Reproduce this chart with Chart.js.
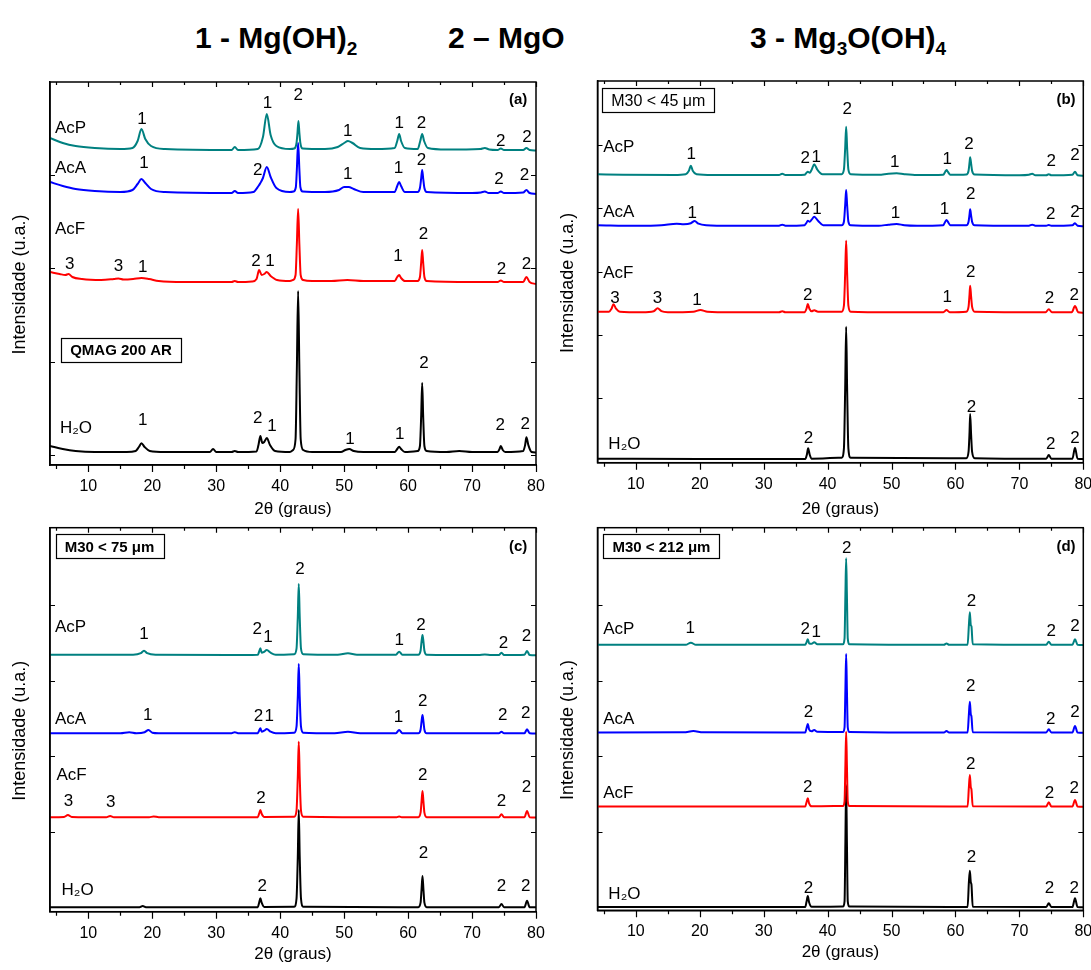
<!DOCTYPE html>
<html><head><meta charset="utf-8">
<script src="https://cdn.jsdelivr.net/npm/chart.js@4.4.1/dist/chart.umd.min.js"></script>
<style>
body{margin:0;background:#fff;width:1091px;height:970px;position:relative;overflow:hidden;font-family:"Liberation Sans",Arial,sans-serif}
.t{position:absolute;top:18px;font-weight:bold;font-size:30px;line-height:40px;white-space:nowrap;color:#000}
.t sub{font-size:19px;vertical-align:-7px;line-height:0}
canvas{position:absolute}
</style></head><body>
<div class="t" style="left:195px">1 - Mg(OH)<sub>2</sub></div>
<div class="t" style="left:448px">2 – MgO</div>
<div class="t" style="left:750px">3 - Mg<sub>3</sub>O(OH)<sub>4</sub></div>
<canvas id="ca" width="545" height="450" style="left:0;top:70px"></canvas>
<canvas id="cb" width="541" height="450" style="left:550px;top:70px"></canvas>
<canvas id="cc" width="545" height="455" style="left:0;top:515px"></canvas>
<canvas id="cd" width="541" height="455" style="left:550px;top:515px"></canvas>
<script>
// ---------- DATA (2θ in degrees, intensity in arbitrary units, curves already offset) ----------
const seriesNames = ['AcP','AcA','AcF','H2O'];
const xTickValues = [5,10,15,20,25,30,35,40,45,50,55,60,65,70,75,80];

// Panel (a) QMAG 200 AR
const a_AcP = [[4,327],[6,322],[8,319],[11,317],[15,316],[16.9,317],[17.7,324],[18.3,336],[18.9,326],[19.8,319],[22,316],[32.4,315],[32.9,318],[33.4,315],[36.5,316],[37.3,328],[37.9,351],[38.5,330],[39.4,319],[41.5,316],[42.2,316.5],[42.55,322],[42.7,332],[42.85,344],[43.0,332],[43.15,322],[43.5,316.5],[47,316],[49,318],[50,322],[50.6,324],[51.3,322],[52.5,317],[55,316],[57.9,317],[58.3,324],[58.6,331],[58.9,324],[59.5,317],[61.5,316],[61.9,324],[62.2,331],[62.5,324],[63.1,317],[66,315.5],[71.3,316],[72,317],[72.7,315.5],[74,315],[74.5,316.5],[75,315],[78,315],[78.5,317],[79,315],[80,314.5]];
const a_AcA = [[4,283],[6,279],[8,276],[11,274],[15,273],[16.9,275],[17.7,281],[18.3,286],[18.9,282],[19.8,276],[22,273],[32.4,272],[32.9,274],[33.4,272],[35.8,273],[36.6,279],[36.9,282],[37.3,287],[37.9,298],[38.5,288],[39.4,277],[41.5,273],[42.1,273.5],[42.45,278],[42.6,295],[42.8,322],[43.0,295],[43.15,278],[43.5,273.5],[47,273],[49.2,275],[50,278],[50.7,278],[51.5,276],[53,273],[57.9,273],[58.3,279],[58.6,283],[58.9,279],[59.5,273],[61.5,273],[61.85,277],[62.05,287],[62.2,295],[62.35,287],[62.55,277],[62.9,273],[70,272],[71.4,272.5],[72,273.5],[72.6,272],[74,272],[74.5,273.5],[75,272],[78,272.5],[78.5,275],[79,272],[80,271]];
const a_AcF = [[4,193],[5.5,191],[6.4,190],[6.9,191],[7.5,188],[9,186],[12,185],[14,186],[14.7,186.5],[15.5,185.5],[17,186],[18.3,187],[19.5,186],[21,184],[25,183],[32.4,183],[32.9,184],[33.4,183],[35.6,183.5],[36.3,186],[36.7,195],[37.1,190],[37.5,191],[37.9,193],[38.5,189],[39.5,185],[41.5,184],[42.0,185],[42.4,190],[42.6,220],[42.8,256],[43.0,220],[43.2,190],[43.6,185],[45,184],[48,184],[50.5,185],[53,184],[57.9,184],[58.3,188],[58.6,190],[58.9,187],[59.5,184],[61.5,184],[61.85,188],[62.05,203],[62.2,215],[62.35,203],[62.55,188],[62.9,184],[70,183],[74,183],[74.5,184.5],[75,183],[78,183],[78.5,188],[79,183],[80,181]];
const a_H2O = [[4,19],[6,16],[8,14],[11,13],[16,13],[17.4,14],[17.9,18],[18.3,21.7],[18.8,18],[19.6,14],[22,13],[29,13],[29.5,16],[30,13],[32.4,13],[32.9,14],[33.4,13],[36.3,13.5],[36.6,20],[36.9,29],[37.2,22],[37.5,23],[37.9,27],[38.4,20],[39.2,14],[41.5,13],[42.0,15],[42.4,26],[42.6,95],[42.8,174],[43.0,95],[43.2,26],[43.6,15],[45,13],[49.5,13],[50.2,15],[50.8,16],[51.5,14],[53,13],[57.9,13],[58.3,16],[58.6,18.3],[58.9,16],[59.5,13],[61.5,14],[61.85,19],[62.05,50],[62.2,82],[62.35,50],[62.55,19],[62.9,14],[66,13],[68,14],[70,13],[74,13],[74.3,16],[74.5,19],[74.8,15],[75.2,13],[78,14],[78.3,20],[78.5,27.7],[78.8,20],[79.3,13],[80,12.5]];

// Panel (b) M30 < 45 µm
const b_AcP = [[4,288.5],[8,288],[16,287.7],[17.8,288.5],[18.3,292],[18.6,297],[18.9,292],[19.5,288.5],[22,287.7],[32.4,287.7],[32.9,289],[33.4,287.7],[36.4,288],[36.7,290],[36.9,291],[37.2,290],[37.5,293],[37.9,298.4],[38.4,293],[39.2,288.5],[42.2,288.5],[42.55,293],[42.75,315],[42.9,336],[43.05,315],[43.25,293],[43.6,288.5],[48,288],[49.5,289],[50.8,289.4],[52,288.5],[54,287.7],[58.1,288],[58.4,291],[58.6,292.7],[58.8,291],[59.2,288],[61.7,288.3],[62.05,292],[62.2,300],[62.3,305.4],[62.45,299],[62.6,292],[63,288.3],[70,287.5],[71.5,288],[72,289],[72.5,287.5],[74.2,287.5],[74.6,288.4],[75,287.5],[78.3,288],[78.7,291],[79.1,287.5],[80,287]];
const b_AcA = [[4,237.5],[10,237],[14,237.5],[16.4,239],[17.5,238.5],[18.6,239.5],[19.2,241.7],[19.8,239],[21,237.5],[25,237],[32.4,237],[32.9,238],[33.4,237],[36.4,237.5],[36.7,240],[36.9,242],[37.2,241],[37.5,243],[37.9,246],[38.5,242],[39.3,237.5],[42.2,237.5],[42.55,241],[42.75,258],[42.9,272.7],[43.05,258],[43.25,241],[43.6,237.5],[48,237],[49.5,238],[50.8,238.7],[52,237.5],[54,237],[58.1,237.5],[58.4,241],[58.6,242.7],[58.8,241],[59.2,237.5],[61.7,237.5],[62.05,241],[62.2,248],[62.3,253.4],[62.45,247],[62.6,241],[63,237.5],[70,237],[71.5,237],[72,238],[72.5,237],[74.2,237],[74.6,237.7],[75,237],[78.3,237.5],[78.7,239.4],[79.1,237],[80,236.5]];
const b_AcF = [[4,151],[5.8,151],[6.2,154],[6.5,158.4],[6.9,154],[7.5,151],[11,150.5],[12.8,151.5],[13.4,154.4],[14,151.5],[15,150.5],[19,151],[20.1,152.7],[21.2,151],[25,150.4],[32.4,150.4],[32.9,151.5],[33.4,150.4],[36.4,150.5],[36.7,154],[36.9,158.7],[37.15,154],[37.5,151.5],[37.9,152.4],[38.5,151],[42.2,151],[42.55,157],[42.75,190],[42.9,222],[43.05,190],[43.25,157],[43.6,151],[50,150.5],[58.1,150.5],[58.6,152.7],[59.1,150.5],[61.7,151],[62.05,156],[62.2,168],[62.3,177],[62.45,166],[62.6,156],[63,151],[74.1,150.5],[74.6,153.4],[75.1,150.5],[78.2,150.5],[78.7,156.7],[79.2,150.5],[80,150]];
const b_H2O = [[4,4],[20,3.7],[36.5,3.7],[36.75,8],[36.95,14.4],[37.2,8],[37.5,4],[42.2,5],[42.55,14],[42.75,75],[42.9,136],[43.05,75],[43.25,14],[43.6,5],[61.7,4.5],[62.05,11],[62.2,30],[62.3,48.7],[62.45,28],[62.6,11],[63,4.5],[74.2,4],[74.6,7.7],[75,4],[78.3,4],[78.7,15],[79.1,4],[80,3.7]];

// Panel (c) M30 < 75 µm
const c_AcP = [[4,257],[17,257],[18.2,258.5],[18.7,261],[19.2,258.5],[20.5,257],[32,256.7],[36.5,257],[36.7,260],[36.9,263.4],[37.1,259],[37.4,259.5],[37.9,261.7],[38.5,259],[39.3,257],[42.2,257.5],[42.55,263],[42.75,295],[42.9,327.7],[43.05,295],[43.25,263],[43.6,257.5],[49,257],[50.6,258.4],[52,257],[58.1,257],[58.6,260],[59.1,257],[61.6,257],[61.95,261],[62.1,270],[62.25,276.7],[62.4,270],[62.55,261],[62.9,257],[71,256.7],[72,257.3],[73,256.7],[74.2,256.7],[74.6,259],[75,256.7],[78.2,257],[78.6,260.7],[79,256.7],[80,256.5]];
const c_AcA = [[4,178.5],[15,178.5],[16.4,179.5],[17.5,178.5],[18.8,179.5],[19.4,181.7],[20,179],[21,178.5],[32.4,178.5],[32.9,179.5],[33.4,178.5],[36.5,178.5],[36.7,181],[36.9,183.4],[37.1,180],[37.5,181],[37.9,182.7],[38.5,180],[39.3,178.5],[42.2,179],[42.55,185],[42.75,215],[42.9,247.7],[43.05,215],[43.25,185],[43.6,179],[48.5,178.5],[50.6,180],[52.5,178.5],[58.1,178.5],[58.6,181.7],[59.1,178.5],[61.6,178.5],[61.95,182],[62.1,190],[62.25,196.7],[62.4,190],[62.55,182],[62.9,178.5],[74.2,178.5],[74.6,180],[75,178.5],[78.2,178.5],[78.6,182.4],[79,178.5],[80,178.3]];
const c_AcF = [[4,94.5],[6.2,94.8],[6.8,96.7],[7.4,94.8],[12.8,94.5],[13.4,95.7],[14,94.5],[19.5,94.5],[20.2,95.2],[21,94.5],[36.5,94.5],[36.7,98],[36.9,101.7],[37.1,98],[37.5,94.8],[42.2,95],[42.55,101],[42.75,135],[42.9,170],[43.05,135],[43.25,101],[43.6,95],[58.2,94.5],[58.6,95.3],[59,94.5],[61.6,94.5],[61.95,99],[62.1,110],[62.25,120.7],[62.4,110],[62.55,99],[62.9,94.5],[74.2,94.5],[74.6,97.4],[75,94.5],[78.2,94.5],[78.6,100.7],[79,94.5],[80,94.3]];
const c_H2O = [[4,4.5],[18,4.5],[18.5,5.7],[19,4.5],[36.5,4.5],[36.7,9],[36.9,13.4],[37.1,9],[37.5,4.8],[42.2,5],[42.55,13],[42.75,55],[42.9,101.7],[43.05,55],[43.25,13],[43.6,5],[61.6,4.5],[61.95,9],[62.1,22],[62.25,35.7],[62.4,22],[62.55,9],[62.9,4.5],[74.2,4.5],[74.6,7.7],[75,4.5],[78.2,4.5],[78.6,11],[79,4.5],[80,4.4]];

// Panel (d) M30 < 212 µm
const d_AcP = [[4,265.5],[17.8,265.5],[18.6,267.6],[19.4,265.5],[36.5,265.5],[36.7,268],[36.9,271],[37.1,267],[37.5,266.5],[37.9,268],[38.4,266],[42.4,266],[42.65,272],[42.78,315],[42.9,352],[43.02,315],[43.15,272],[43.4,266],[58.2,265.5],[58.6,266.8],[59,265.5],[61.9,265.5],[62.1,285],[62.25,298],[62.4,285],[62.5,284],[62.7,266],[74.2,265.5],[74.6,268.6],[75,265.5],[78.3,265.5],[78.7,271],[79.1,265.5],[80,265.3]];
const d_AcA = [[4,177.8],[17.5,178],[19,179.3],[20.5,178],[36.5,177.8],[36.7,182],[36.9,186.3],[37.1,181],[37.5,179],[37.9,180.3],[38.4,178.5],[42.4,178.3],[42.65,183],[42.78,220],[42.9,256.3],[43.02,220],[43.15,183],[43.4,178.3],[58.2,177.8],[58.6,179.3],[59,177.8],[61.9,177.8],[62.1,196],[62.25,208.6],[62.4,196],[62.5,194],[62.7,178],[74.2,177.8],[74.6,181],[75,177.8],[78.3,177.8],[78.7,184.3],[79.1,177.8],[80,177.6]];
const d_AcF = [[4,103.8],[36.5,103.8],[36.7,108],[36.9,112],[37.1,107],[37.5,104],[42.4,104.3],[42.65,109],[42.78,145],[42.9,178.6],[43.02,145],[43.15,109],[43.4,104.3],[61.9,103.8],[62.1,123],[62.25,135.3],[62.4,123],[62.5,121],[62.7,104],[74.2,103.8],[74.6,108],[75,103.8],[78.3,103.8],[78.7,110.3],[79.1,103.8],[80,103.6]];
const d_H2O = [[4,3.2],[36.5,3.2],[36.7,8.5],[36.9,14.3],[37.1,8],[37.5,3.5],[42.4,3.7],[42.65,9],[42.78,68],[42.9,125.3],[43.02,68],[43.15,9],[43.4,3.7],[61.9,3.2],[62.1,28],[62.25,39.6],[62.4,28],[62.5,26],[62.7,3.5],[74.2,3.2],[74.6,7],[75,3.2],[78.3,3.2],[78.7,12],[79.1,3.2],[80,3]];

// y ranges and y tick marks (arbitrary units)
const yMaxA = 383, yMaxB = 381.7, yMaxC = 384, yMaxD = 382.6;
const yTicksA = [10,103.3,196.7,290];
const yTicksB = [1,64.4,127.7,191,254.4,317.7];
const yTicksC = [4.4,80,155.6,231.2,306.8];
const yTicksD = [3,78.6,154.2,229.8,305.4];

// text labels: [text, 2θ, intensity, kind]
const labelsA = [['AcP',4.78,338.3,'l'],['1',18.4,346.7],['1',38.0,363.3],['2',42.8,371],['1',50.55,335],['1',58.6,343.3],['2',62.1,343.3],['2',74.5,325],['2',78.6,329],['(a)',77.2,366.7,'b'],
 ['AcA',4.78,297.7,'l'],['1',18.7,303.3],['2',36.5,296],['1',50.55,291.7],['1',58.5,297.7],['2',62.1,305.7],['2',74.2,287.3],['2',78.2,290.7],
 ['AcF',4.78,236.7,'l'],['3',7.1,202.3],['3',14.7,200],['1',18.5,199.3],['2',36.2,205],['1',38.4,205],['1',58.4,210],['2',62.4,231.7],['2',74.6,196.7],['2',78.5,202.3],
 ['QMAG 200 AR',15.1,115.3,'boxb'],
 ['H₂O',5.56,38.3,'l'],['1',18.5,45.7],['2',36.5,47.7],['1',38.7,40],['1',50.9,26.7],['1',58.7,32.3],['2',62.5,103.3],['2',74.4,40.7],['2',78.3,42.3]];
const labelsB = [['M30 < 45 μm',13.5,362.7,'box'],['(b)',77.3,363.7,'b'],
 ['AcP',4.9,316.7,'l'],['1',18.65,309.4],['2',36.5,306],['1',38.2,306.7],['2',43.05,354.4],['1',50.5,301.7],['1',58.7,304.4],['2',62.1,320],['2',75.0,302.7],['2',78.7,308.4],
 ['AcA',4.9,251.7,'l'],['1',18.8,251],['2',36.5,254.4],['1',38.35,254.4],['1',50.6,250.4],['1',58.3,254.4],['2',62.4,270],['2',74.9,250],['2',78.7,251.7],
 ['AcF',4.9,191,'l'],['3',6.75,166],['3',13.4,165.4],['1',19.55,163.4],['2',36.9,168.7],['1',58.7,166.7],['2',62.4,191.7],['2',74.7,166],['2',78.6,168.4],
 ['H₂O',5.7,19.4,'l'],['2',37.0,26],['2',62.5,57],['2',74.9,19.4],['2',78.7,26]];
const labelsC = [['M30 < 75 μm',13.3,365.4,'boxb'],['(c)',77.2,365.7,'b'],
 ['AcP',4.78,285.7,'l'],['1',18.7,278.4],['2',36.4,283.4],['1',38.1,275.7],['2',43.1,343.4],['1',58.6,272.4],['2',62.0,287.7],['2',74.9,270],['2',78.5,276.7],
 ['AcA',4.78,193.4,'l'],['1',19.3,197.7],['2',36.6,196.7],['1',38.3,196.7],['1',58.5,195.7],['2',62.3,211.7],['2',74.8,197.4],['2',78.4,199.4],
 ['AcF',5.0,137.7,'l'],['3',6.9,111.7],['3',13.5,111],['2',37.0,115],['2',62.3,137.7],['2',74.6,111.7],['2',78.5,125.7],
 ['H₂O',5.8,22.4,'l'],['2',37.2,26.7],['2',62.4,60],['2',74.6,26.7],['2',78.4,26.7]];
const labelsD = [['M30 < 212 μm',14.0,364,'boxb'],['(d)',77.3,364.3,'b'],
 ['AcP',4.9,282,'l'],['1',18.5,283.6],['2',36.5,282],['1',38.2,279.6],['2',43.0,363],['2',62.5,310.3],['2',75.0,280.3],['2',78.7,285.3],
 ['AcA',4.9,192,'l'],['2',37.0,199.6],['2',62.4,225.3],['2',74.9,192],['2',78.7,199.6],
 ['AcF',4.9,118.6,'l'],['2',36.9,124.3],['2',62.4,147],['2',74.7,118.6],['2',78.6,123],
 ['H₂O',5.7,17,'l'],['2',37.0,23.6],['2',62.5,54.3],['2',74.7,23.6],['2',78.6,23.6]];

// ---------- RENDERING ----------
const FAM = '"Liberation Sans", Arial, sans-serif';
const seriesColors = ['#008080','#0000ff','#ff0000','#000000'];

function framePlugin(yTicks, labels, L){
  return {
    id:'frame',
    afterDatasetsDraw(chart){
      const ctx = chart.ctx, a = chart.chartArea, xs = chart.scales.x, ys = chart.scales.y;
      ctx.save();
      ctx.strokeStyle = '#000';
      ctx.lineWidth = 1.5;
      ctx.strokeRect(a.left, a.top, a.right - a.left, a.bottom - a.top);
      ctx.lineWidth = 1.2;
      ctx.beginPath();
      yTicks.forEach(v => {
        const py = Math.round(ys.getPixelForValue(v)) + 0.5;
        ctx.moveTo(a.left, py); ctx.lineTo(a.left + 5, py);
        ctx.moveTo(a.right, py); ctx.lineTo(a.right - 5, py);
      });
      xTickValues.forEach(v => {
        const px = Math.round(xs.getPixelForValue(v)) + 0.5;
        const major = v % 10 === 0;
        ctx.moveTo(px, a.top); ctx.lineTo(px, a.top + (major ? 5 : 3));
        ctx.moveTo(px, a.bottom); ctx.lineTo(px, a.bottom + (major ? 7 : 4));
      });
      ctx.stroke();
      // y axis title
      ctx.fillStyle = '#000';
      ctx.save();
      ctx.translate(L.ytx, (a.top + a.bottom) / 2 + 11);
      ctx.rotate(-Math.PI / 2);
      ctx.font = '18px ' + FAM;
      ctx.textAlign = 'center';
      ctx.textBaseline = 'middle';
      ctx.fillText('Intensidade (u.a.)', 0, 0);
      ctx.restore();
      ctx.textBaseline = 'alphabetic';
      labels.forEach(l => {
        const [txt, xv, yv, kind] = l;
        const px = xs.getPixelForValue(xv), py = ys.getPixelForValue(yv);
        let size = 17, bold = false;
        if (kind === 'b') { size = 15; bold = true; }
        if (kind === 'boxb') { size = 15; bold = true; }
        if (kind === 'box') { size = 16; }
        ctx.font = (bold ? 'bold ' : '') + size + 'px ' + FAM;
        ctx.textAlign = kind === 'l' ? 'left' : 'center';
        ctx.fillText(txt, px, py + 0.358 * size);
        if (kind === 'box' || kind === 'boxb') {
          const w = ctx.measureText(txt).width + 18, h = 24;
          ctx.lineWidth = 1.2;
          ctx.strokeRect(Math.round(px - w / 2) + 0.5, Math.round(py - h / 2) + 0.5, Math.round(w), h);
        }
      });
      ctx.restore();
    }
  };
}

function makeChart(id, series, yMax, yTicks, labels, L){
  return new Chart(document.getElementById(id), {
    type: 'line',
    data: { datasets: series.map((s, i) => ({
      label: seriesNames[i],
      data: s.map(p => ({ x: p[0], y: p[1] })),
      borderColor: seriesColors[i], borderWidth: 2, pointRadius: 0,
      cubicInterpolationMode: 'monotone', fill: false
    })) },
    options: {
      responsive: false, animation: false, devicePixelRatio: 1,
      layout: { padding: { top: L.top, right: L.right, left: 0, bottom: 0 } },
      plugins: { legend: { display: false }, tooltip: { enabled: false } },
      scales: {
        x: {
          type: 'linear', min: 4, max: 80,
          afterBuildTicks: s => { s.ticks = xTickValues.map(v => ({ value: v })); },
          afterFit: s => { s.height = L.xH; s.paddingLeft = 0; s.paddingRight = 0; },
          ticks: { autoSkip: false, maxRotation: 0, color: '#000', padding: 12,
                   font: { size: 16, family: FAM },
                   callback: v => (v % 10 === 0 ? String(v) : '') },
          grid: { display: false, drawTicks: false },
          border: { display: true, color: '#000', width: 1.5 },
          title: { display: true, text: '2θ (graus)', color: '#000', font: { size: 17, family: FAM },
                   padding: { top: 0, bottom: L.xtp } }
        },
        y: {
          type: 'linear', min: 0, max: yMax,
          afterFit: s => { s.width = L.yW; },
          ticks: { display: false },
          grid: { display: false },
          border: { display: true, color: '#000', width: 1.5 },
          title: { display: false }
        }
      }
    },
    plugins: [framePlugin(yTicks, labels, L)]
  });
}

makeChart('ca', [a_AcP, a_AcA, a_AcF, a_H2O], yMaxA, yTicksA, labelsA, { top: 12, right: 9, yW: 50, xH: 55, xtp: 0, ytx: 20 });
makeChart('cb', [b_AcP, b_AcA, b_AcF, b_H2O], yMaxB, yTicksB, labelsB, { top: 11, right: 7.7, yW: 47.5, xH: 57.3, xtp: 0, ytx: 18.3 });
makeChart('cc', [c_AcP, c_AcA, c_AcF, c_H2O], yMaxC, yTicksC, labelsC, { top: 12.7, right: 9, yW: 50, xH: 58.3, xtp: 5.8, ytx: 20 });
makeChart('cd', [d_AcP, d_AcA, d_AcF, d_H2O], yMaxD, yTicksD, labelsD, { top: 12.7, right: 7.7, yW: 47.5, xH: 59.7, xtp: 7.8, ytx: 18.3 });
</script>
</body></html>
